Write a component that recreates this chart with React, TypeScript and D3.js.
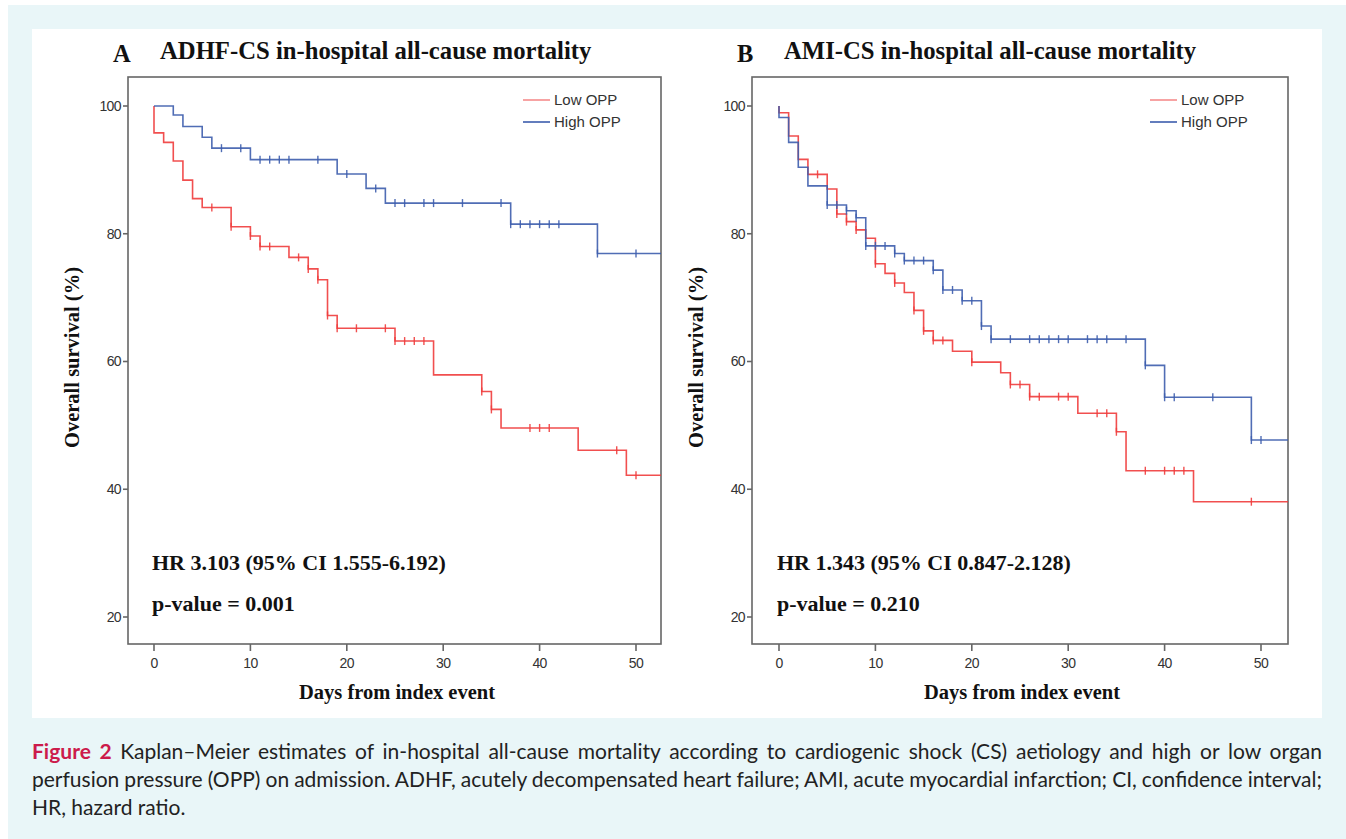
import React, { useRef, useLayoutEffect } from 'react';
import * as d3 from 'd3';

// ---------- data ----------
const xTicks = [0, 10, 20, 30, 40, 50];
const yTicks = [20, 40, 60, 80, 100];
const seriesNames = ['Low OPP', 'High OPP'];

// Panel A: ADHF-CS
const adhfLowTimes = [0, 1, 2, 3, 4, 5, 8, 10, 11, 14, 16, 17, 18, 19, 25, 29, 34, 35, 36, 44, 49];
const adhfLowSurv = [95.8, 94.3, 91.4, 88.4, 85.5, 84.1, 81.1, 79.65, 78.0, 76.3, 74.5, 72.8, 67.2, 65.2, 63.2, 57.9, 55.3, 52.5, 49.6, 46.1, 42.2];
const adhfLowCensor = [6, 8, 10, 11, 12, 15, 16, 17, 18, 19, 21, 24, 25, 26, 27, 28, 34, 35, 39, 40, 41, 48, 50];

const adhfHighTimes = [2, 3, 5, 6, 10, 19, 22, 24, 37, 46];
const adhfHighSurv = [98.6, 96.8, 95.1, 93.4, 91.6, 89.35, 87.1, 84.8, 81.5, 76.9];
const adhfHighCensor = [7, 9, 11, 12, 13, 14, 17, 20, 23, 25, 26, 28, 29, 32, 36, 37, 38, 39, 40, 41, 42, 46, 50];

// Panel B: AMI-CS
const amiLowTimes = [0, 1, 2, 3, 5, 6, 7, 8, 9, 10, 11, 12, 13, 14, 15, 16, 18, 20, 23, 24, 26, 31, 35, 36, 43];
const amiLowSurv = [98.95, 95.3, 91.65, 89.3, 87.0, 83.1, 81.9, 80.6, 79.3, 75.3, 73.8, 72.3, 70.8, 68.0, 64.8, 63.3, 61.6, 59.9, 58.25, 56.4, 54.5, 51.9, 49.0, 42.9, 38.05];
const amiLowCensor = [4, 6, 7, 8, 10, 12, 14, 15, 16, 17, 20, 24, 25, 26, 27, 29, 30, 33, 34, 35, 38, 40, 41, 42, 49];

const amiHighTimes = [0, 1, 2, 3, 5, 7, 8, 9, 12, 13, 16, 17, 19, 21, 22, 38, 40, 49];
const amiHighSurv = [98.2, 94.3, 90.4, 87.5, 84.5, 83.6, 82.5, 78.1, 76.9, 75.8, 74.3, 71.2, 69.5, 65.55, 63.5, 59.4, 54.4, 47.7];
const amiHighCensor = [5, 6, 7, 8, 9, 10, 11, 12, 13, 14, 15, 16, 17, 18, 19, 20, 21, 22, 24, 26, 27, 28, 29, 30, 32, 33, 34, 36, 38, 40, 41, 45, 49, 50];

const captionLines = [
  'Kaplan–Meier estimates of in-hospital all-cause mortality according to cardiogenic shock (CS) aetiology and high or low organ',
  'perfusion pressure (OPP) on admission. ADHF, acutely decompensated heart failure; AMI, acute myocardial infarction; CI, confidence interval;',
  'HR, hazard ratio.',
];

// ---------- styles ----------
const RED = '#f03c3c';
const BLUE = '#3d5dad';
const AXIS = '#666';
const SERIF = '"Liberation Serif", "Times New Roman", serif';
const SANS = '"Liberation Sans", Arial, sans-serif';

function survAt(times: number[], surv: number[], t: number) {
  let v = 100;
  for (let i = 0; i < times.length; i++) if (times[i] <= t) v = surv[i];
  return v;
}

type Series = { times: number[]; surv: number[]; censor: number[]; color: string };

function Panel(props: {
  letter: string; title: string; hr: string; p: string;
  x0: number; x1: number; y0: number; y1: number;
  xr: [number, number]; yr: [number, number];
  series: Series[];
}) {
  const { x0, x1, y0, y1 } = props;
  const x = d3.scaleLinear().domain([0, 50]).range(props.xr);
  const y = d3.scaleLinear().domain([20, 100]).range(props.yr);
  const xEnd = x.invert(x1);
  const line = d3.line<[number, number]>().x(d => x(d[0])).y(d => y(d[1])).curve(d3.curveStepAfter);
  const midX = (x(0) + x(50)) / 2 + 2;
  return (
    <g>
      <text x={x0 - 15} y={62} fontFamily={SERIF} fontWeight="bold" fontSize={24.5} fill="#111">{props.letter}</text>
      <text x={x0 + 32} y={59} fontFamily={SERIF} fontWeight="bold" fontSize={24.7} fill="#111">{props.title}</text>
      <rect x={x0} y={y0} width={x1 - x0} height={y1 - y0} fill="white" stroke={AXIS} strokeWidth={1.6} />
      {yTicks.map(t => (
        <g key={'y' + t}>
          <line x1={x0 - 5} x2={x0} y1={y(t)} y2={y(t)} stroke={AXIS} strokeWidth={1.6} />
          <text x={x0 - 7} y={y(t)} dy="0.35em" textAnchor="end" fontFamily={SANS} fontSize={14} fill="#333" letterSpacing={-0.6}>{t}</text>
        </g>
      ))}
      {xTicks.map(t => (
        <g key={'x' + t}>
          <line x1={x(t)} x2={x(t)} y1={y1} y2={y1 + 7} stroke={AXIS} strokeWidth={1.6} />
          <text x={x(t)} y={y1 + 24} textAnchor="middle" fontFamily={SANS} fontSize={14} fill="#333" letterSpacing={-0.6}>{t}</text>
        </g>
      ))}
      <text transform={`translate(${x0 - 49},${(y0 + y1) / 2 - 3}) rotate(-90)`} textAnchor="middle"
        fontFamily={SERIF} fontWeight="bold" fontSize={20.5} fill="#111">Overall survival (%)</text>
      <text x={midX} y={699} textAnchor="middle" fontFamily={SERIF} fontWeight="bold" fontSize={20.5} fill="#111">Days from index event</text>
      {props.series.map((s, i) => {
        const pts: [number, number][] = [[0, 100], ...s.times.map((t, j) => [t, s.surv[j]] as [number, number]), [xEnd, s.surv[s.surv.length - 1]]];
        return (
          <g key={'s' + i}>
            <path d={line(pts) || ''} fill="none" stroke={s.color} strokeWidth={1.6} strokeOpacity={0.9} />
            {s.censor.map((c, k) => {
              const cy = y(survAt(s.times, s.surv, c));
              return <line key={k} x1={x(c)} x2={x(c)} y1={cy - 4} y2={cy + 4} stroke={s.color} strokeWidth={1.4} strokeOpacity={0.9} />;
            })}
          </g>
        );
      })}
      {seriesNames.map((n, i) => (
        <g key={'l' + i}>
          <line x1={x1 - 138} x2={x1 - 111} y1={y0 + 23 + i * 22} y2={y0 + 23 + i * 22}
            stroke={i === 0 ? '#f58c8c' : BLUE} strokeWidth={1.6} />
          <text x={x1 - 107} y={y0 + 23 + i * 22} dy="0.35em" fontFamily={SANS} fontSize={15} fill="#333">{n}</text>
        </g>
      ))}
      <text x={x(0) - 2} y={570} fontFamily={SERIF} fontWeight="bold" fontSize={22} fill="#111">{props.hr}</text>
      <text x={x(0) - 2} y={611} fontFamily={SERIF} fontWeight="bold" fontSize={22} fill="#111">{props.p}</text>
    </g>
  );
}

function CaptionLine(props: { x: number; y: number; width: number; justify: boolean; bold?: string; text: string }) {
  const ref = useRef<SVGTextElement>(null);
  useLayoutEffect(() => {
    const fit = () => {
      const el = ref.current;
      if (!el || !props.justify) return;
      el.setAttribute('word-spacing', '0');
      const w = el.getComputedTextLength();
      const spaces = (el.textContent || '').split(' ').length - 1;
      if (spaces > 0) el.setAttribute('word-spacing', String((props.width - w) / spaces));
    };
    fit();
    if ((document as any).fonts && (document as any).fonts.ready) (document as any).fonts.ready.then(fit);
  });
  return (
    <text ref={ref} x={props.x} y={props.y} fontFamily='Lato, "Open Sans", sans-serif' fontSize={21} fill="#222">
      {props.bold ? <tspan fontWeight="bold" fill="#cc1b4b">{props.bold} </tspan> : null}
      {props.text}
    </text>
  );
}

export default function App() {
  const W = 1346, H = 839;
  return (
    <svg width={W} height={H} style={{ position: 'absolute', left: 0, top: 0 }}>
      <rect x={0} y={0} width={W} height={H} fill="white" />
      <rect x={8} y={5} width={W - 8} height={H - 5} fill="#e9f6f8" />
      <rect x={32} y={29} width={1290} height={689} fill="white" />
      <Panel letter="A" title="ADHF-CS in-hospital all-cause mortality"
        hr="HR 3.103 (95% CI 1.555-6.192)" p="p-value = 0.001"
        x0={128} x1={661} y0={77} y1={644} xr={[154, 636]} yr={[617, 106]}
        series={[
          { times: adhfLowTimes, surv: adhfLowSurv, censor: adhfLowCensor, color: RED },
          { times: adhfHighTimes, surv: adhfHighSurv, censor: adhfHighCensor, color: BLUE },
        ]} />
      <Panel letter="B" title="AMI-CS in-hospital all-cause mortality"
        hr="HR 1.343 (95% CI 0.847-2.128)" p="p-value = 0.210"
        x0={752} x1={1288} y0={77} y1={644} xr={[779, 1261]} yr={[617, 106]}
        series={[
          { times: amiLowTimes, surv: amiLowSurv, censor: amiLowCensor, color: RED },
          { times: amiHighTimes, surv: amiHighSurv, censor: amiHighCensor, color: BLUE },
        ]} />
      <CaptionLine x={32} y={759} width={1290} justify={true} bold="Figure 2" text={captionLines[0]} />
      <CaptionLine x={32} y={787} width={1290} justify={true} text={captionLines[1]} />
      <CaptionLine x={32} y={815} width={1290} justify={false} text={captionLines[2]} />
    </svg>
  );
}
